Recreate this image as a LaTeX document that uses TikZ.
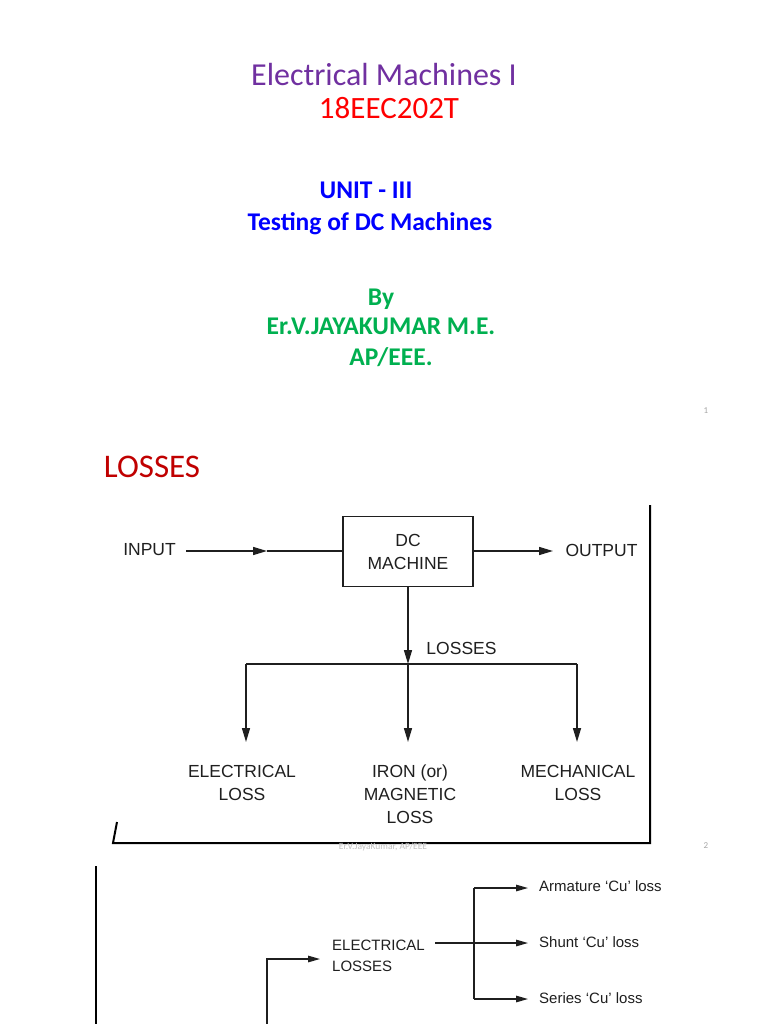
\documentclass[tikz,border=0pt]{standalone}
\usepackage{fontspec}
\setmainfont{Carlito}
\newfontfamily\arialf{Liberation Sans}
\usetikzlibrary{arrows.meta}
\definecolor{ttlpurple}{HTML}{7030A0}
\definecolor{ttlred}{HTML}{FF0000}
\definecolor{ttlblue}{HTML}{0000FF}
\definecolor{ttlgreen}{HTML}{00B050}
\definecolor{darkred}{HTML}{C00000}
\definecolor{ink}{HTML}{1F1F1F}
\definecolor{faint}{HTML}{A6A6A6}
\begin{document}
\begin{tikzpicture}[x=1pt,y=-1pt,
  dg/.style={font=\arialf\fontsize{17.5}{23}\selectfont, text=ink, align=center, inner sep=0pt},
  sm/.style={font=\arialf\fontsize{15}{21}\selectfont, text=ink, inner sep=0pt},
  ln/.style={draw=ink, line width=1.5pt},
  arr/.style={ln, -{Triangle[length=14pt,width=8pt]}},
  ln2/.style={draw=ink, line width=1.3pt},
  arr2/.style={ln2, -{Triangle[length=12pt,width=6.5pt]}},
  pg/.style={font=\fontsize{9}{10}\selectfont, text=faint, inner sep=0pt},
  ttl/.style={anchor=base, inner sep=0pt},
  bld/.style={ttl, font=\bfseries\fontsize{25.5}{28}\selectfont}]
\path[fill=white] (0,0) rectangle (768,1024);
\useasboundingbox (0,0) rectangle (768,1024);

% ---- slide 1 ----
\node[ttl, font=\fontsize{32}{36}\selectfont, text=ttlpurple] (t1) at (384,86) {Electrical Machines I};
\node[ttl, font=\fontsize{31}{36}\selectfont, text=ttlred] (t2) at (389,119) {18EEC202T};
\node[bld, text=ttlblue] (t3) at (366,199) {UNIT - III};
\node[bld, text=ttlblue] (t4) at (370,230) {Testing of DC Machines};
\node[bld, text=ttlgreen] (t5) at (381,305) {By};
\node[bld, text=ttlgreen] (t6) at (381,334) {Er.V.JAYAKUMAR M.E.};
\node[bld, text=ttlgreen] (t7) at (391,365) {AP/EEE.};
\node[pg] (p1) at (706,411) {1};

% ---- slide 2 ----
\node[ttl, font=\fontsize{33}{38}\selectfont, text=darkred] (hd) at (152,477) {LOSSES};

\node[dg, draw=ink, line width=1.5pt, minimum width=130pt, minimum height=70pt] (dc) at (408,551.5) {DC\\MACHINE};
\node[dg] (inp) at (149.5,550) {INPUT};
\node[dg] (out) at (601.5,550) {OUTPUT};
\coordinate (is) at (186,551);
\coordinate (im) at (267,551);
\coordinate (ot) at (553,551);
\draw[arr] (is) -- (im);
\draw[ln] (im) -- (dc.west |- im);
\draw[arr] (dc.east |- ot) -- (ot);

\coordinate (j) at (408,664);
\coordinate (bl) at (246,664);
\coordinate (br) at (577,664);
\draw[arr] (dc.south) -- (j);
\node[dg] (lossl) at (461.5,648) {LOSSES};
\draw[ln] (bl) -- (br);
\coordinate (el) at (246,742);
\coordinate (ml) at (408,742);
\coordinate (mr) at (577,742);
\draw[arr] (bl) -- (el);
\draw[arr] (j) -- (ml);
\draw[arr] (br) -- (mr);
\node[dg] (elec) at (242,782.5) {ELECTRICAL\\LOSS};
\node[dg] (iron) at (410,794) {IRON (or)\\MAGNETIC\\LOSS};
\node[dg] (mech) at (578,782.5) {MECHANICAL\\LOSS};

\draw[black, line width=2pt] (650,505) -- (650,843) -- (113,843) -- (117,822);
\node[pg, font=\fontsize{9.5}{10}\selectfont, text=faint!70] (ft) at (383,847) {Er.V.JayaKumar, AP/EEE};
\node[pg] (p2) at (706,846) {2};

% ---- slide 3 ----
\draw[black, line width=1.3pt] (96,866) -- (96,1024);
\node[sm, align=left, anchor=west] (el2) at (332,955.5) {ELECTRICAL\\LOSSES};
\coordinate (es) at (435,943);
\coordinate (b1) at (474,888);
\coordinate (b3) at (474,999);
\coordinate (at) at (528,888);
\coordinate (st) at (528,943);
\coordinate (rt) at (528,999);
\draw[arr2] (es) -- (st);
\draw[ln2] (b1) -- (b3);
\draw[arr2] (b1) -- (at);
\draw[arr2] (b3) -- (rt);
\node[sm, anchor=west] (arm) at (539,886) {Armature ‘Cu’ loss};
\node[sm, anchor=west] (shn) at (539,942) {Shunt ‘Cu’ loss};
\node[sm, anchor=west] (ser) at (539,998) {Series ‘Cu’ loss};
\coordinate (c0) at (267,1024);
\coordinate (c1) at (267,959);
\coordinate (c2) at (320,959);
\draw[arr2] (c0) -- (c1) -- (c2);
\end{tikzpicture}
\end{document}
